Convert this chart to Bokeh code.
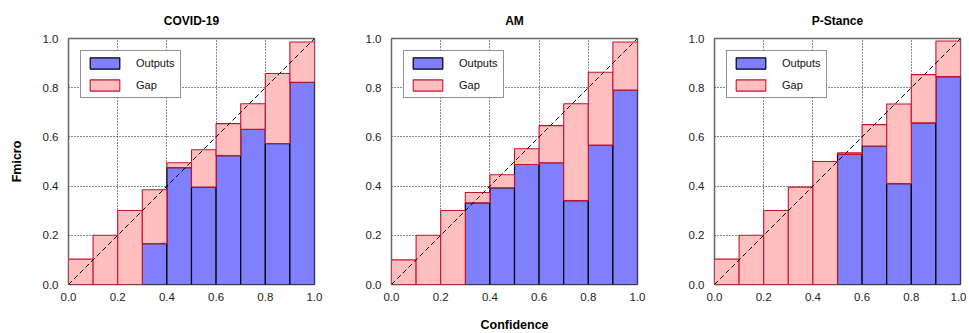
from bokeh.plotting import figure
from bokeh.layouts import row
from bokeh.models import Range1d, FixedTicker, ColumnDataSource
from bokeh.embed import file_html
from bokeh.resources import INLINE

# ---- data ----
bin_centers = [0.05, 0.15, 0.25, 0.35, 0.45, 0.55, 0.65, 0.75, 0.85, 0.95]
bin_width = 0.1

titles = ["COVID-19", "AM", "P-Stance"]

covid_outputs = [0.0, 0.0, 0.0, 0.166, 0.475, 0.396, 0.524, 0.631, 0.573, 0.822]
covid_conf = [0.103, 0.200, 0.301, 0.385, 0.495, 0.548, 0.654, 0.735, 0.858, 0.986]

am_outputs = [0.0, 0.0, 0.0, 0.332, 0.393, 0.488, 0.495, 0.341, 0.567, 0.790]
am_conf = [0.100, 0.200, 0.301, 0.374, 0.446, 0.552, 0.646, 0.735, 0.863, 0.986]

ps_outputs = [0.0, 0.0, 0.0, 0.0, 0.0, 0.529, 0.563, 0.410, 0.657, 0.845]
ps_conf = [0.103, 0.200, 0.301, 0.396, 0.500, 0.535, 0.650, 0.734, 0.853, 0.990]

tick_values = [0.0, 0.2, 0.4, 0.6, 0.8, 1.0]
tick_labels = ["0.0", "0.2", "0.4", "0.6", "0.8", "1.0"]

diag_x = [0.0, 1.0]
diag_y = [0.0, 1.0]

series = [(covid_outputs, covid_conf), (am_outputs, am_conf), (ps_outputs, ps_conf)]

FONT = "Liberation Sans"
OUT_FILL = "#8080ff"
GAP_FILL = "#ffbfbf"
GAP_LINE = "#c8102e"

figs = []
for i, (title, (outs, conf)) in enumerate(zip(titles, series)):
    p = figure(
        frame_width=246, frame_height=246,
        x_range=Range1d(0, 1), y_range=Range1d(0, 1),
        output_backend="svg", toolbar_location=None,
        min_border_left=(68 if i == 0 else 60), min_border_right=(6 if i == 2 else 17),
        min_border_top=38, min_border_bottom=47,
        title=title,
    )
    p.title.align = "center"
    p.title.text_font = FONT
    p.title.text_font_size = "12px"
    p.title.text_font_style = "bold"
    p.title.text_color = "#000000"
    p.title.standoff = 22

    src = ColumnDataSource(dict(x=bin_centers, outputs=outs, conf=conf))
    p.vbar(x="x", width=bin_width, top="outputs", bottom=0, source=src,
           fill_color=OUT_FILL, line_color="#000000", line_width=1.2,
           legend_label="Outputs")
    p.vbar(x="x", width=bin_width, top="conf", bottom="outputs", source=src,
           fill_color=GAP_FILL, line_color=GAP_LINE, line_width=1.1,
           legend_label="Gap")
    p.line(diag_x, diag_y, line_color="#000000", line_width=1, line_dash="5 3")

    for ax in (p.xaxis[0], p.yaxis[0]):
        ax.ticker = FixedTicker(ticks=tick_values)
        ax.major_label_overrides = {v: s for v, s in zip(tick_values, tick_labels)}
        ax.major_tick_line_color = None
        ax.minor_tick_line_color = None
        ax.major_tick_out = 0
        ax.major_tick_in = 0
        ax.axis_line_color = None
        ax.major_label_text_font = FONT
        ax.major_label_text_font_size = "11.5px"
        ax.major_label_text_color = "#222222"
        ax.axis_label_text_font = FONT
        ax.axis_label_text_font_size = "12.5px"
        ax.axis_label_text_font_style = "bold"
        ax.axis_label_text_color = "#000000"
    p.xaxis.major_label_standoff = 8
    p.yaxis.major_label_standoff = 10

    if i == 0:
        p.yaxis.axis_label = "Fmicro"
        p.yaxis.axis_label_standoff = 16
    if i == 1:
        p.xaxis.axis_label = "Confidence"
        p.xaxis.axis_label_standoff = 14

    for g in (p.xgrid[0], p.ygrid[0]):
        g.ticker = FixedTicker(ticks=tick_values)
        g.grid_line_color = "#111111"
        g.grid_line_dash = "1 2"
        g.grid_line_width = 1

    p.outline_line_color = "#666666"
    p.outline_line_width = 1.5
    p.background_fill_color = "white"
    p.border_fill_color = "white"

    lg = p.legend[0]
    lg.location = "top_left"
    lg.margin = 12
    lg.padding = 5
    lg.spacing = 8
    lg.glyph_width = 37
    lg.glyph_height = 14
    lg.label_height = 14
    lg.label_standoff = 13
    lg.label_text_font = FONT
    lg.label_text_font_size = "11px"
    lg.label_text_color = "#111111"
    lg.border_line_color = "#222222"
    lg.border_line_width = 1
    lg.background_fill_alpha = 1.0
    lg.background_fill_color = "white"

    figs.append(p)

layout = row(*figs, spacing=0)

open("out.html", "w").write(file_html(layout, INLINE))
